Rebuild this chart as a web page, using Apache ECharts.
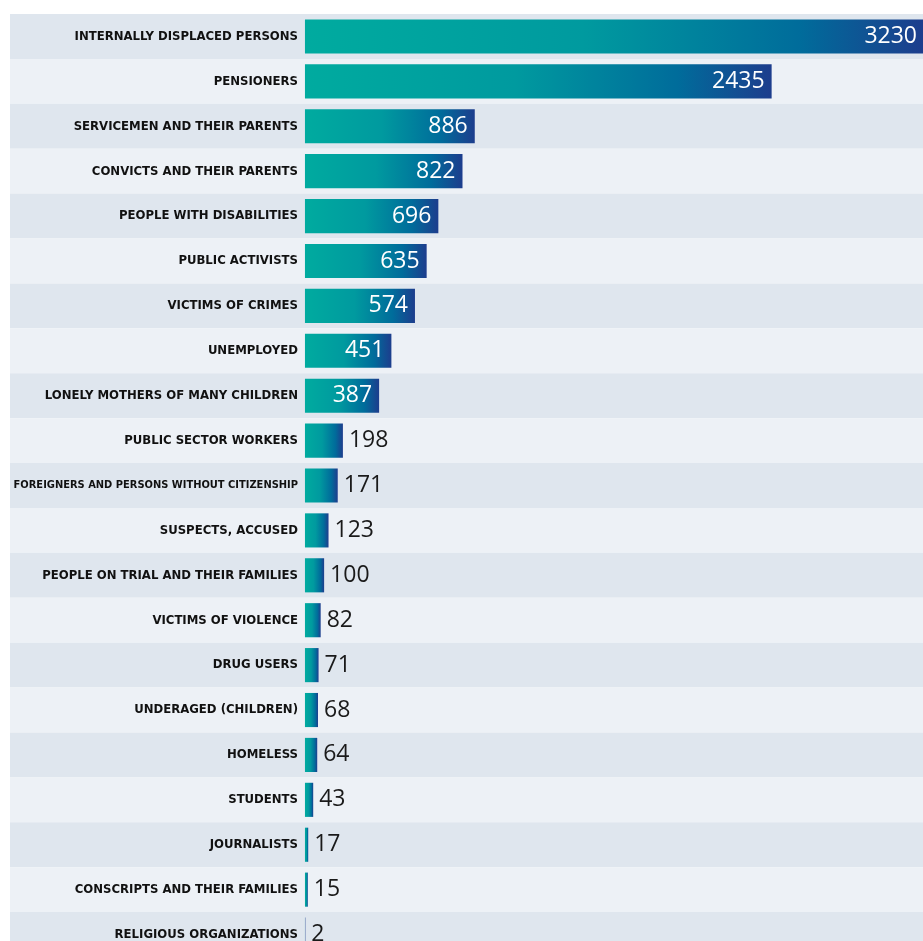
<!DOCTYPE html>
<html><head><meta charset="utf-8">
<script src="https://cdn.jsdelivr.net/npm/echarts@6/dist/echarts.min.js"></script>
<style>html,body{margin:0;padding:0;background:#fff}#c{width:923px;height:941px}</style>
</head><body><div id="c"></div>
<script>
const categories = [
  'INTERNALLY DISPLACED PERSONS','PENSIONERS','SERVICEMEN AND THEIR PARENTS','CONVICTS AND THEIR PARENTS',
  'PEOPLE WITH DISABILITIES','PUBLIC ACTIVISTS','VICTIMS OF CRIMES','UNEMPLOYED','LONELY MOTHERS OF MANY CHILDREN',
  'PUBLIC SECTOR WORKERS','FOREIGNERS AND PERSONS WITHOUT CITIZENSHIP','SUSPECTS, ACCUSED','PEOPLE ON TRIAL AND THEIR FAMILIES',
  'VICTIMS OF VIOLENCE','DRUG USERS','UNDERAGED (CHILDREN)','HOMELESS','STUDENTS','JOURNALISTS','CONSCRIPTS AND THEIR FAMILIES',
  'RELIGIOUS ORGANIZATIONS'
];
const values = [3230,2435,886,822,696,635,574,451,387,198,171,123,100,82,71,68,64,43,17,15,2];
const insideThreshold = 300;

const chart = echarts.init(document.getElementById('c'), null, {renderer:'canvas'});
const barColor = new echarts.graphic.LinearGradient(0,0,1,0,[
  {offset:0,color:'#00ab9f'},{offset:0.45,color:'#009a9f'},{offset:0.8,color:'#006c9b'},{offset:1,color:'#1d3d8d'}
]);
const data = values.map(v => ({
  value: v,
  label: v >= insideThreshold
    ? {position:'insideRight', color:'#ffffff', distance:7}
    : {position:'right', color:'#1a1a1a', distance:6}
}));
const labelFont = "'DejaVu Sans Condensed', 'DejaVu Sans', sans-serif";
chart.setOption({
  animation:false,
  backgroundColor:'#ffffff',
  grid:{left:10, right:-1, top:14, bottom:-16, containLabel:false, outerBoundsMode:'none'},
  xAxis:{type:'value', min:-1539, max:3230, show:false},
  yAxis:{
    type:'category', inverse:true, data:categories,
    axisLine:{show:false, onZero:false}, axisTick:{show:false},
    axisLabel:{
      margin:-288, align:'right', color:'#111', fontFamily:labelFont, fontWeight:'bold', fontSize:13,
      formatter: t => t.length > 36 ? '{sm|' + t + '}' : t,
      rich:{sm:{fontFamily:labelFont, fontWeight:'bold', fontSize:11, color:'#111'}}
    },
    splitArea:{show:true, areaStyle:{color:['#dfe6ee','#edf1f6']}},
    splitLine:{show:false}
  },
  series:[{
    type:'bar', data:data, barWidth:'76%',
    itemStyle:{color:barColor},
    label:{show:true, fontFamily:"'Open Sans', sans-serif", fontSize:23}
  }]
});
</script></body></html>
